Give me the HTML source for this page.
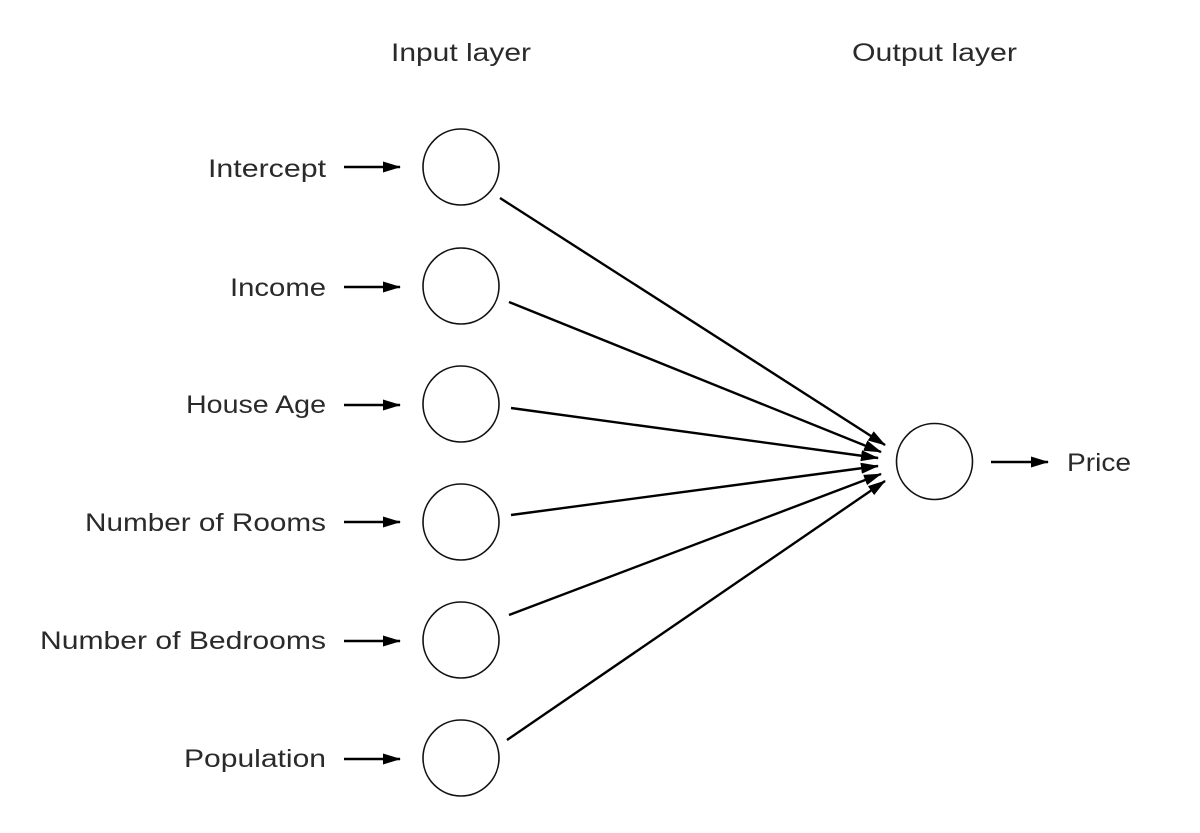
<!DOCTYPE html>
<html><head><meta charset="utf-8"><style>html,body{margin:0;padding:0;background:#fff}svg{display:block}</style></head>
<body>
<svg width="1200" height="833" viewBox="0 0 1200 833" xmlns="http://www.w3.org/2000/svg">
<defs>
<marker id="b" markerWidth="18" markerHeight="12" refX="17" refY="6" orient="auto" markerUnits="userSpaceOnUse">
<path d="M0,0.5 L18,6 L0,11.5 Z" fill="#000"/>
</marker>
</defs>
<g font-family="Liberation Sans, sans-serif" font-size="25" fill="#2a2a2a">
<text x="391" y="61" textLength="140" lengthAdjust="spacingAndGlyphs">Input layer</text>
<text x="852" y="61" textLength="165" lengthAdjust="spacingAndGlyphs">Output layer</text>
<text x="208" y="177" textLength="118" lengthAdjust="spacingAndGlyphs">Intercept</text>
<text x="230" y="296" textLength="96" lengthAdjust="spacingAndGlyphs">Income</text>
<text x="186" y="413" textLength="140" lengthAdjust="spacingAndGlyphs">House Age</text>
<text x="85" y="531" textLength="241" lengthAdjust="spacingAndGlyphs">Number of Rooms</text>
<text x="40" y="649" textLength="286" lengthAdjust="spacingAndGlyphs">Number of Bedrooms</text>
<text x="184" y="767" textLength="142" lengthAdjust="spacingAndGlyphs">Population</text>
<text x="1067" y="471" textLength="64" lengthAdjust="spacingAndGlyphs">Price</text>
</g>
<g fill="none" stroke="#111" stroke-width="1.6">
<circle cx="461" cy="167" r="38"/>
<circle cx="461" cy="286" r="38"/>
<circle cx="461" cy="404" r="38"/>
<circle cx="461" cy="522" r="38"/>
<circle cx="461" cy="640" r="38"/>
<circle cx="461" cy="758" r="38"/>
<circle cx="934.5" cy="461.5" r="38"/>
</g>
<g stroke="#000" stroke-width="2.4" marker-end="url(#b)">
<line x1="344" y1="167" x2="400" y2="167"/>
<line x1="344" y1="287" x2="400" y2="287"/>
<line x1="344" y1="405" x2="400" y2="405"/>
<line x1="344" y1="522" x2="400" y2="522"/>
<line x1="344" y1="641" x2="400" y2="641"/>
<line x1="344" y1="759" x2="400" y2="759"/>
<line x1="991" y1="462" x2="1048" y2="462"/>
<line x1="500" y1="198" x2="885" y2="445"/>
<line x1="509" y1="302" x2="881" y2="452"/>
<line x1="511" y1="408" x2="878" y2="458"/>
<line x1="511" y1="515" x2="878" y2="466"/>
<line x1="509" y1="615" x2="881" y2="474"/>
<line x1="507" y1="740" x2="885" y2="481"/>
</g>
</svg>
</body></html>
